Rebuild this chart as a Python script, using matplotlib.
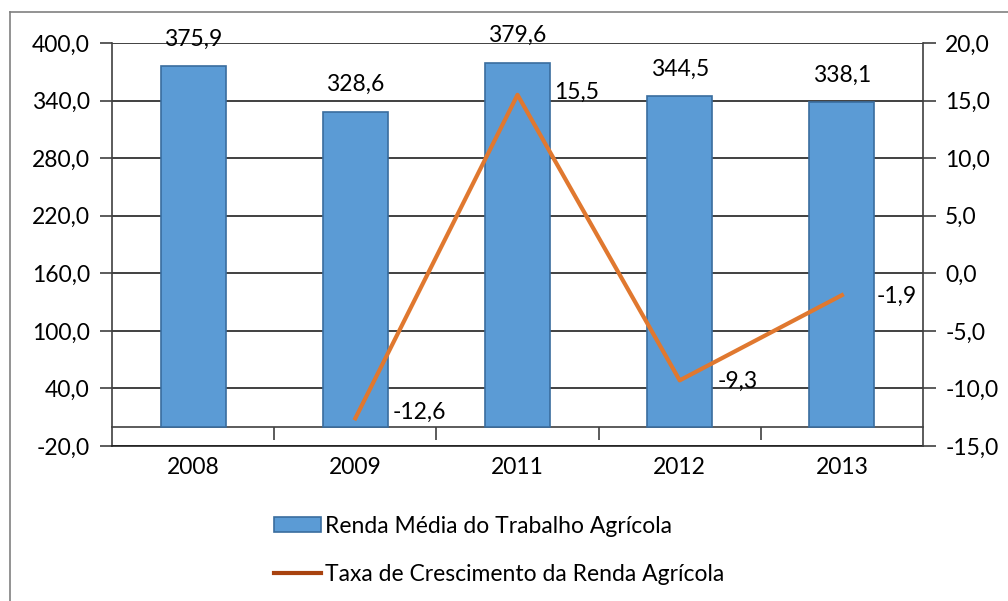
import matplotlib
matplotlib.use("Agg")
import matplotlib.pyplot as plt
from matplotlib.lines import Line2D
from matplotlib.patches import Patch
import numpy as np

plt.rcParams["font.family"] = ["Lato", "DejaVu Sans"]

# data
years = ["2008", "2009", "2011", "2012", "2013"]
renda_media = [375.9, 328.6, 379.6, 344.5, 338.1]
taxa_crescimento = [None, -12.6, 15.5, -9.3, -1.9]

left_ticks = np.arange(-20, 401, 60)
right_ticks = np.arange(-15, 21, 5)

BAR_COLOR = "#5B9BD5"
BAR_EDGE = "#3A6D9E"
LINE_COLOR = "#E0782F"
LEGEND_LINE = "#A8420F"
FS = 16.5


def fmt(v):
    return f"{v:.1f}".replace(".", ",")


fig = plt.figure(figsize=(10.08, 6.01), dpi=100)
ax = fig.add_axes([112 / 1008, 1 - 446 / 601, 811 / 1008, 403 / 601])

x = np.arange(len(years))
ax.bar(x, renda_media, width=0.4, color=BAR_COLOR, edgecolor=BAR_EDGE,
       linewidth=1.2, zorder=3)
ax.set_xlim(-0.5, len(years) - 0.5)
ax.set_ylim(-20, 400)
ax.set_yticks(left_ticks)
ax.set_yticklabels([fmt(v) for v in left_ticks], fontsize=FS)
ax.set_xticks(x)
ax.set_xticklabels(years, fontsize=FS)
ax.tick_params(axis="x", length=0, pad=8)
ax.tick_params(axis="y", length=9, width=1.2, color="#404040", pad=7)
ax.grid(True, axis="y", color="#202020", linewidth=1.2, zorder=0)
for s in ["top", "right"]:
    ax.spines[s].set_visible(False)
ax.spines["left"].set_color("#404040")
ax.spines["left"].set_linewidth(1.2)
ax.spines["bottom"].set_color("#202020")
ax.spines["bottom"].set_linewidth(1.2)

# category axis crossing at zero
zero_frac = (0 - (-20)) / 420
cat_axis = ax.secondary_xaxis(zero_frac)
cat_axis.set_xticks(np.arange(0.5, len(years) - 1, 1.0))
cat_axis.set_xticklabels([])
cat_axis.tick_params(direction="out", length=9, width=1.2, color="#404040")
cat_axis.spines["bottom"].set_color("#404040")
cat_axis.spines["bottom"].set_linewidth(1.2)

for xi, v in zip(x, renda_media):
    ax.annotate(fmt(v), (xi, v), xytext=(0, 12), textcoords="offset points",
                ha="center", va="bottom", fontsize=FS)

# line on secondary axis
ax2 = ax.twinx()
lx = [xi for xi, v in zip(x, taxa_crescimento) if v is not None]
ly = [v for v in taxa_crescimento if v is not None]
ax2.plot(lx, ly, color=LINE_COLOR, linewidth=3, zorder=4)
ax2.set_ylim(-15, 20)
ax2.set_yticks(right_ticks)
ax2.set_yticklabels([fmt(v) for v in right_ticks], fontsize=FS)
ax2.tick_params(axis="y", length=9, width=1.2, color="#404040", pad=7)
for s in ["top", "left", "bottom"]:
    ax2.spines[s].set_visible(False)
ax2.spines["right"].set_color("#404040")
ax2.spines["right"].set_linewidth(1.2)

label_offsets = [(27, 4), (26, 2), (27, -1), (25, -1)]
for xi, v, (dx, dy) in zip(lx, ly, label_offsets):
    ax2.annotate(fmt(v), (xi, v), xytext=(dx, dy), textcoords="offset points",
                 ha="left", va="center", fontsize=FS)

# legend
handles = [
    Patch(facecolor=BAR_COLOR, edgecolor=BAR_EDGE, linewidth=1.2),
    Line2D([0], [0], color=LEGEND_LINE, linewidth=3),
]
labels = ["Renda Média do Trabalho Agrícola",
          "Taxa de Crescimento da Renda Agrícola"]
fig.legend(handles, labels, loc="upper left",
           bbox_to_anchor=(253 / 1008, 1 - 495 / 601), frameon=False,
           fontsize=FS, handlelength=2.05, handleheight=0.6,
           handletextpad=0.2, labelspacing=1.2)

# chart outer border
fig.add_artist(Line2D([10 / 1008, 1.0], [1 - 12 / 601] * 2,
                      transform=fig.transFigure, color="#808080", linewidth=1.2))
fig.add_artist(Line2D([10 / 1008] * 2, [0, 1 - 12 / 601],
                      transform=fig.transFigure, color="#808080", linewidth=1.2))

fig.savefig("out.png", dpi=100)
